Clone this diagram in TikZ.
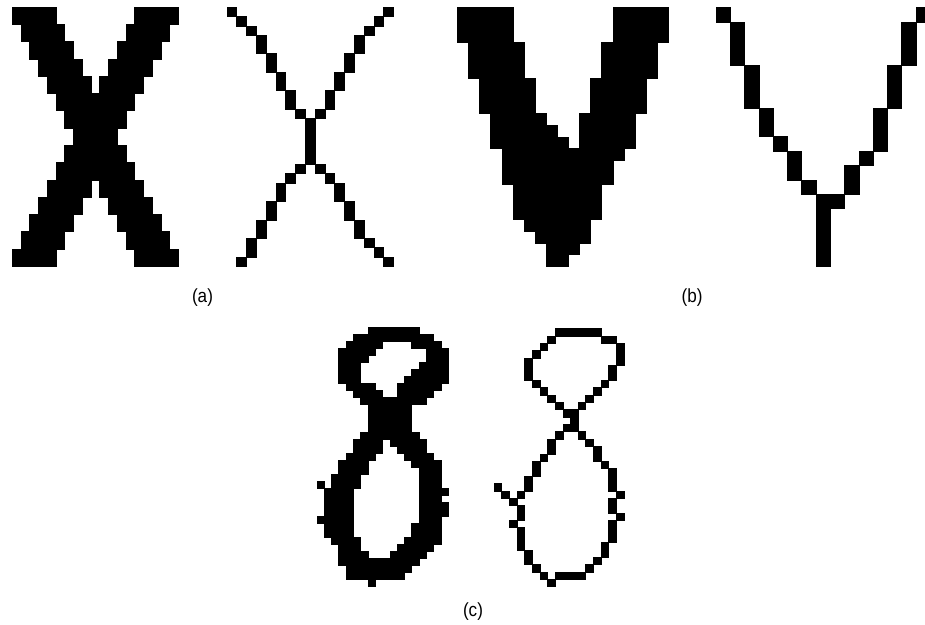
\documentclass[tikz,border=0pt]{standalone}
\usepackage{fontspec}
\newfontfamily\subfont{Liberation Sans}[FakeStretch=0.9]
\tikzset{
  pix/.style={fill=black,draw=black,line width=0.3pt},
  sublabel/.style={font=\subfont\fontsize{19}{22}\selectfont,inner sep=0pt}
}
\def\labrow{297.5}

\begin{document}
\begin{tikzpicture}[x=1pt,y=-1pt]
    \useasboundingbox (0,0) rectangle (925,624);

    % (a) left: thick X
    \begin{scope}[shift={(12,7)},x=8.75pt,y=-17.27pt]
        \foreach \r/\a/\b in {0/0/5,0/14/19,1/1/6,1/13/18,2/2/7,2/12/17,3/3/8,3/11/16,
            4/4/9,4/10/15,5/5/14,6/6/13,7/7/12,8/6/13,9/5/14,10/4/9,10/10/15,
            11/3/8,11/11/16,12/2/7,12/12/17,13/1/6,13/13/18,14/0/5,14/14/19}
            \fill[pix] (\a,\r) rectangle (\b,\r+1);
    \end{scope}

    % (a) right: thinned X
    \begin{scope}[shift={(226.7,7.3)},x=9.8pt,y=-9.24pt]
        \foreach \c/\p/\q in {0/0/0,1/1/1,2/2/2,3/3/4,4/5/6,5/7/8,6/9/10,7/11/11,8/12/16,
            16/0/0,15/1/1,14/2/2,13/3/4,12/5/6,11/7/8,10/9/10,9/11/11,
            7/17/17,6/18/18,5/19/20,4/21/22,3/23/24,2/25/26,1/27/27,
            9/17/17,10/18/18,11/19/20,12/21/22,13/23/24,14/25/25,15/26/26,16/27/27}
            \fill[pix] (\c,\p) rectangle (\c+1,\q+1);
    \end{scope}

    % (b) left: thick V
    \begin{scope}[shift={(457.3,7.3)},x=11.1pt,y=-11.77pt]
        \foreach \r/\a/\b in {0/0/5,0/14/19,1/0/5,1/14/19,2/0/5,2/14/19,
            3/1/6,3/13/18,4/1/6,4/13/18,5/1/6,5/13/18,
            6/2/7,6/12/17,7/2/7,7/12/17,8/2/7,8/12/17,
            9/3/8,9/11/16,10/3/9,10/11/16,11/3/10,11/11/16,
            12/4/15,13/4/14,14/4/14,15/5/13,16/5/13,17/5/13,18/6/12,19/7/12,20/8/11,21/8/10}
            \fill[pix] (\a,\r) rectangle (\b,\r+1);
    \end{scope}

    % (b) right: thinned V
    \begin{scope}[shift={(716,7.3)},x=14.27pt,y=-14.37pt]
        \foreach \c/\p/\q in {0/0/0,1/1/3,2/4/6,3/7/8,4/9/9,5/10/11,6/12/12,7/13/17,8/13/13,
            14/0/0,13/1/3,12/4/6,11/7/9,10/10/10,9/11/12}
            \fill[pix] (\c,\p) rectangle (\c+1,\q+1);
    \end{scope}

    % (c) left: thick 8
    \begin{scope}[shift={(316.7,327.3)},x=7.3pt,y=-7pt]
        \foreach \r/\a/\b in {0/7/14,1/5/16,2/4/9,2/13/17,3/3/8,3/15/18,4/3/7,4/15/18,
            5/3/6,5/14/18,6/3/6,6/13/18,7/3/6,7/12/18,8/4/8,8/11/17,9/5/9,9/11/16,
            10/6/15,11/7/13,12/7/13,13/7/13,14/7/13,15/6/14,
            16/5/9,16/10/15,17/5/9,17/11/15,18/4/8,18/12/16,19/3/7,19/13/17,
            20/3/7,20/14/17,21/2/6,21/14/17,22/0/1,22/2/6,22/14/17,
            23/1/5,23/14/18,24/1/5,24/14/17,25/1/5,25/14/18,26/1/5,26/14/18,
            27/0/1,27/1/5,27/14/17,28/1/5,28/13/17,29/1/5,29/13/17,
            30/2/6,30/12/17,31/3/6,31/11/16,32/3/7,32/10/15,
            33/3/14,34/4/13,35/4/12,36/7/8}
            \fill[pix] (\a,\r) rectangle (\b,\r+1);
    \end{scope}

    % (c) right: thinned 8
    \begin{scope}[shift={(494,328.3)},x=7.63pt,y=-7.38pt]
        \foreach \c/\p/\q in {8/0/0,9/0/0,10/0/0,11/0/0,12/0/0,13/0/0,
            7/1/1,14/1/1,15/1/1,16/2/4,6/2/2,5/3/3,4/4/6,15/5/6,
            5/7/7,14/7/7,6/8/8,13/8/8,7/9/9,12/9/9,8/10/10,11/10/10,
            9/11/11,10/11/13,9/13/13,8/14/14,11/14/14,
            7/15/16,12/15/15,13/16/17,6/17/17,5/18/19,14/18/18,15/19/21,4/20/21,
            3/22/22,0/21/21,1/22/22,2/23/23,16/22/22,15/23/24,3/24/25,16/25/25,
            2/26/26,15/26/28,3/27/29,14/29/30,4/30/31,13/31/31,5/32/32,12/32/32,
            6/33/33,8/33/33,9/33/33,10/33/33,11/33/33,7/34/34}
            \fill[pix] (\c,\p) rectangle (\c+1,\q+1);
    \end{scope}

    \node[sublabel] (labA) at (202.5,\labrow) {(a)};
    \node[sublabel] (labB) at (692,\labrow) {(b)};
    \node[sublabel] (labC) at (473,612) {(c)};

\end{tikzpicture}
\end{document}
